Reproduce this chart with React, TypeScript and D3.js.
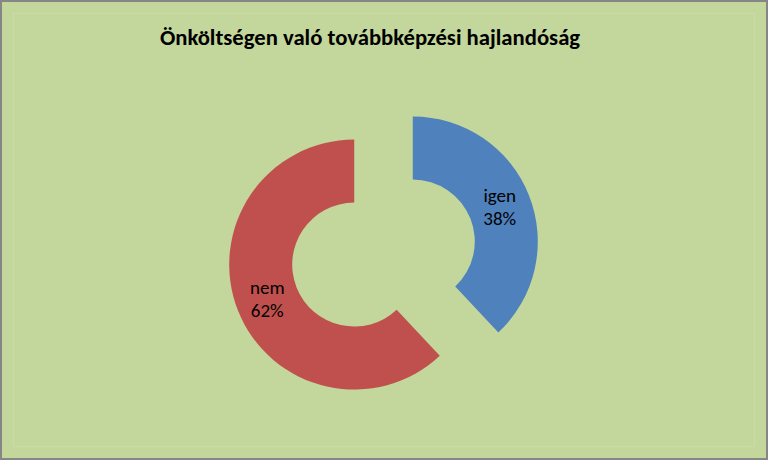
import React, { useEffect, useRef } from "react";
import * as d3 from "d3";

const categories = ["igen", "nem"];
const shares = [38, 62];
const colors = ["#4F81BD", "#C0504D"];
const title = "Önköltségen való továbbképzési hajlandóság";

const W = 768;
const H = 460;

const DonutChart: React.FC = () => {
  const svgRef = useRef<SVGSVGElement | null>(null);

  useEffect(() => {
    if (!svgRef.current) return;
    const svg = d3.select(svgRef.current);
    svg.selectAll("*").remove();

    // background + border
    svg.append("rect")
      .attr("x", 1).attr("y", 1)
      .attr("width", W - 2).attr("height", H - 2)
      .attr("fill", "#C3D69B")
      .attr("stroke", "#868686")
      .attr("stroke-width", 2);

    // faint plot area outline
    svg.append("rect")
      .attr("x", 13.5).attr("y", 13.5)
      .attr("width", W - 27).attr("height", H - 27)
      .attr("fill", "none")
      .attr("stroke", "#CADCA6")
      .attr("stroke-width", 1);

    svg.append("text")
      .attr("x", 370)
      .attr("y", 45)
      .attr("text-anchor", "middle")
      .attr("font-family", "Carlito, 'Liberation Sans', Arial, sans-serif")
      .attr("font-size", 22.7)
      .attr("font-weight", "bold")
      .attr("fill", "#000")
      .text(title);

    const cx = 383.5;
    const cy = 253;
    const outer = 125;
    const inner = 62;
    const explode = 31.5;

    const data = categories.map((c, i) => ({ name: c, value: shares[i], color: colors[i] }));
    const pie = d3.pie<any>().value(d => d.value).sort(null);
    const arc = d3.arc<any>().innerRadius(inner).outerRadius(outer);
    const arcs = pie(data);

    const g = svg.append("g").attr("transform", `translate(${cx},${cy})`);

    const slice = g.selectAll(".slice")
      .data(arcs)
      .join("g")
      .attr("class", "slice")
      .attr("transform", d => {
        const mid = (d.startAngle + d.endAngle) / 2;
        return `translate(${Math.sin(mid) * explode},${-Math.cos(mid) * explode})`;
      });

    slice.append("path")
      .attr("d", arc)
      .attr("fill", d => d.data.color);

    const label = slice.append("text")
      .attr("transform", d => {
        const [x, y] = arc.centroid(d);
        return `translate(${x},${y})`;
      })
      .attr("text-anchor", "middle")
      .attr("font-family", "Carlito, 'Liberation Sans', Arial, sans-serif")
      .attr("font-size", 19)
      .attr("fill", "#000");

    label.append("tspan")
      .attr("x", 0)
      .attr("y", -5)
      .text(d => d.data.name);
    label.append("tspan")
      .attr("x", 0)
      .attr("y", 18)
      .text(d => `${d.data.value}%`);
  }, []);

  return (
    <svg
      ref={svgRef}
      width={W}
      height={H}
      style={{ position: "absolute", left: 0, top: 0, display: "block" }}
    />
  );
};

export default function App() {
  return <DonutChart />;
}
